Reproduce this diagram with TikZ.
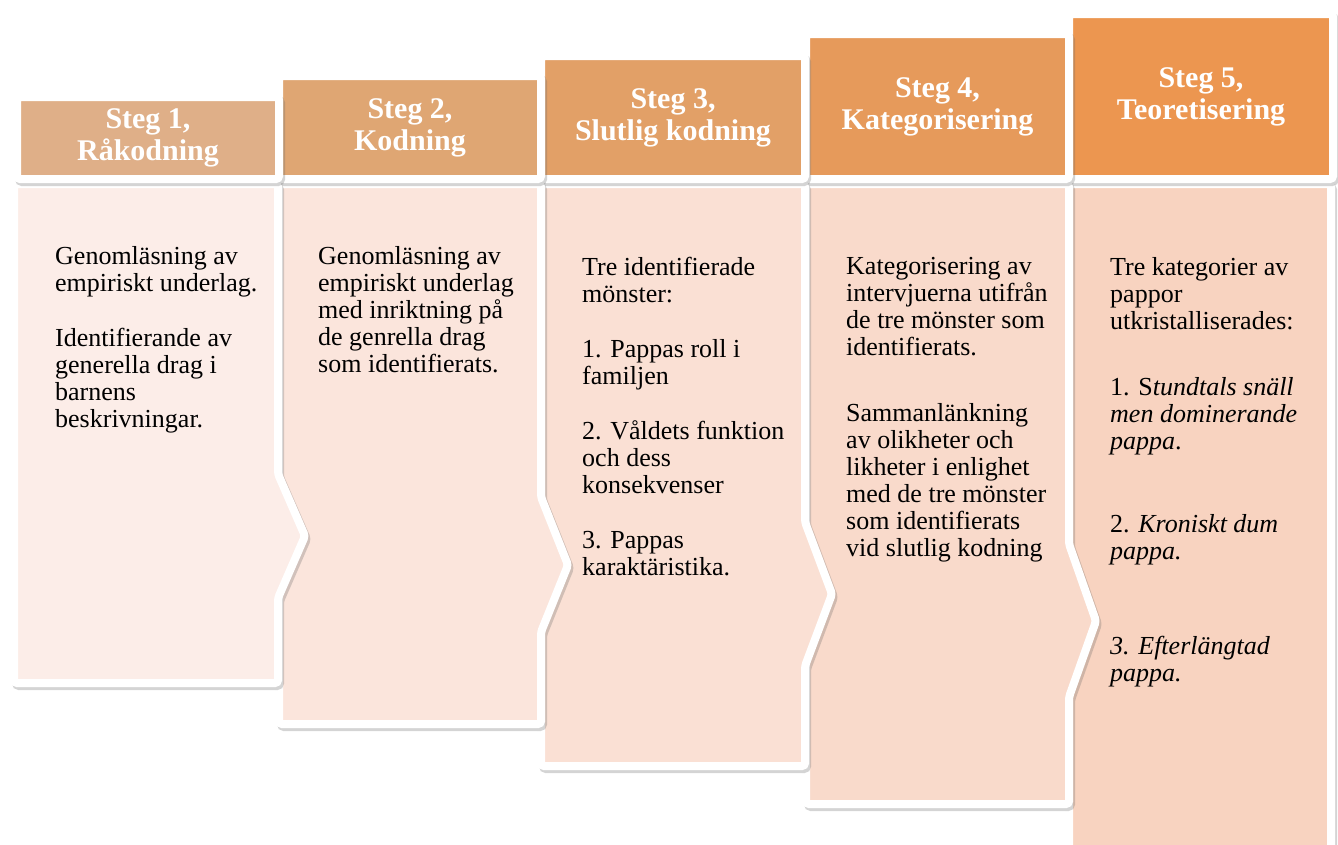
\documentclass[tikz,border=0pt]{standalone}
\usepackage{fontspec}
\setmainfont{Liberation Serif}
\usetikzlibrary{shadows}
\definecolor{hA}{HTML}{DFAF88}
\definecolor{hB}{HTML}{DFA673}
\definecolor{hC}{HTML}{E2A067}
\definecolor{hD}{HTML}{E69A5B}
\definecolor{hE}{HTML}{EC9650}
\definecolor{bA}{HTML}{FCEDE8}
\definecolor{bB}{HTML}{FBE5DC}
\definecolor{bC}{HTML}{FAE0D4}
\definecolor{bD}{HTML}{F9DACB}
\definecolor{bE}{HTML}{F8D3C0}
\begin{document}
\begin{tikzpicture}[x=1pt,y=-1pt,
  shade/.style={drop shadow={opacity=0.28, shadow xshift=2pt, shadow yshift=-3pt, draw=black!60, line width=8pt}},
  bodyshape/.style={draw=white, line width=8pt, rounded corners=3pt, shade},
  hdr/.style={draw=white, line width=8pt, rounded corners=3pt, shade, text=white,
    font=\fontsize{30}{32}\selectfont\bfseries, align=center, inner sep=0pt},
  txt/.style={anchor=north west, align=left, inner sep=0pt, font=\fontsize{26}{27}\selectfont, text=black}]
\useasboundingbox (0,0) rectangle (1338,844);

% ---- column 5 ----
\path[bodyshape, fill=bE] (1069,184) rectangle (1331,880);
\node[hdr, fill=hE, minimum width=264, minimum height=165] (h5) at (1201,96.5) {Steg 5,\\Teoretisering};
\node[txt] (t5) at (1110,257) {Tre kategorier av\\pappor\\utkristalliserades:\\[39pt]1. S\textit{tundtals snäll}\\\textit{men dominerande}\\\textit{pappa}.\\[56pt]2. \textit{Kroniskt dum}\\\textit{pappa.}\\[68pt]\textit{3. Efterlängtad}\\\textit{pappa.}};

% ---- column 4 ----
\path[bodyshape, fill=bD] (806,184) -- (1069,184) -- (1069,544) -- (1096,621) -- (1069,697) -- (1069,804) -- (806,804) -- cycle;
\node[hdr, fill=hD, minimum width=263, minimum height=145] (h4) at (937.5,106.5) {Steg 4,\\Kategorisering};
\node[txt] (t4) at (846,257) {Kategorisering av\\intervjuerna utifrån\\de tre mönster som\\identifierats.\\[39pt]Sammanlänkning\\av olikheter och\\likheter i enlighet\\med de tre mönster\\som identifierats\\vid slutlig kodning};

% ---- column 3 ----
\path[bodyshape, fill=bC] (541,184) -- (805,184) -- (805,522) -- (832,594) -- (805,666) -- (805,766) -- (541,766) -- cycle;
\node[hdr, fill=hC, minimum width=264, minimum height=123] (h3) at (673,117.5) {Steg 3,\\Slutlig kodning};
\node[txt] (t3) at (582,257) {Tre identifierade\\mönster:\\[28pt]1. Pappas roll i\\familjen\\[28pt]2. Våldets funktion\\och dess\\konsekvenser\\[28pt]3. Pappas\\karaktäristika.};

% ---- column 2 ----
\path[bodyshape, fill=bB] (279,184) -- (541,184) -- (541,497) -- (568,565) -- (541,632) -- (541,724) -- (279,724) -- cycle;
\node[hdr, fill=hB, minimum width=262, minimum height=103] (h2) at (410,127.5) {Steg 2,\\Kodning};
\node[txt] (t2) at (318,246) {Genomläsning av\\empiriskt underlag\\med inriktning på\\de genrella drag\\som identifierats.};

% ---- column 1 ----
\path[bodyshape, fill=bA] (14,184) -- (278,184) -- (278,474) -- (305,536) -- (278,598) -- (278,683) -- (14,683) -- cycle;
\node[hdr, fill=hA, minimum width=262, minimum height=82] (h1) at (148,138) {Steg 1,\\Råkodning};
\node[txt] (t1) at (55,246) {Genomläsning av\\empiriskt underlag.\\[28pt]Identifierande av\\generella drag i\\barnens\\beskrivningar.};
\end{tikzpicture}
\end{document}
